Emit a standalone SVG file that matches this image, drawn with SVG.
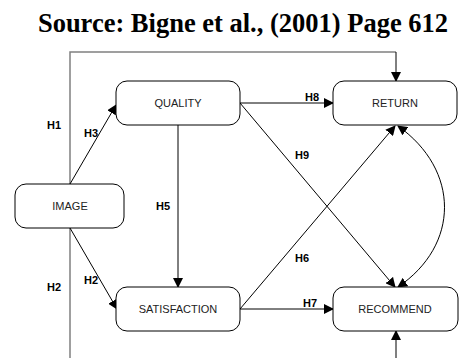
<svg xmlns="http://www.w3.org/2000/svg" width="461" height="358" viewBox="0 0 461 358">
<style>
.node{fill:#fff;stroke:#000;stroke-width:1}
.nt{font-family:"Liberation Sans",Arial,sans-serif;font-size:11px;fill:#222;text-anchor:middle}
.lb{font-family:"Liberation Sans",Arial,sans-serif;font-size:11px;font-weight:bold;fill:#000;text-anchor:middle}
.c{fill:none;stroke:#000;stroke-width:1}
.g{fill:none;stroke:#808080;stroke-width:1.5}
</style>
<defs>
<marker id="a" markerWidth="10" markerHeight="10" refX="9" refY="5" orient="auto" markerUnits="userSpaceOnUse">
<path d="M0,0 L10,5 L0,10 Z" fill="#000"/>
</marker>
<marker id="s" markerWidth="10" markerHeight="10" refX="1" refY="5" orient="auto" markerUnits="userSpaceOnUse">
<path d="M10,0 L0,5 L10,10 Z" fill="#000"/>
</marker>
</defs>
<rect width="461" height="358" fill="#fff"/>
<text x="243" y="32" font-family="'Liberation Serif','Times New Roman',serif" font-size="26.5" font-weight="bold" text-anchor="middle">Source: Bigne et al., (2001) Page 612</text>
<g id="connectors">
<path class="g" d="M70,358 L70,52 L396,52"/>
<path class="c" d="M396,52 L396,81" marker-end="url(#a)"/>
<path class="c" d="M396,358 L396,331" marker-end="url(#a)"/>
<path class="c" d="M70,184 L116,105" marker-end="url(#a)"/>
<path class="c" d="M70,228 L117,309" marker-end="url(#a)"/>
<path class="c" d="M178,125 L178,287" marker-end="url(#a)"/>
<path class="c" d="M240,103 L333,103" marker-end="url(#a)"/>
<path class="c" d="M240,309 L333,309" marker-end="url(#a)"/>
<path class="c" d="M240,103 L395,287" marker-end="url(#a)"/>
<path class="c" d="M240,309 L395,126" marker-end="url(#a)"/>
<path class="c" d="M398,126 C460,170 460,245 398,287" marker-start="url(#s)" marker-end="url(#a)"/>
</g>
<g id="image"><rect class="node" x="15" y="184" width="109" height="44" rx="11"/><text class="nt" x="70" y="210">IMAGE</text></g>
<g id="quality"><rect class="node" x="116" y="81" width="124" height="44" rx="11"/><text class="nt" x="178" y="107">QUALITY</text></g>
<g id="satisfaction"><rect class="node" x="116" y="287" width="124" height="44" rx="11"/><text class="nt" x="178" y="313">SATISFACTION</text></g>
<g id="return"><rect class="node" x="333" y="81" width="124" height="44" rx="11"/><text class="nt" x="395" y="107">RETURN</text></g>
<g id="recommend"><rect class="node" x="333" y="287" width="125" height="44" rx="11"/><text class="nt" x="395" y="313">RECOMMEND</text></g>
<g id="labels">
<text class="lb" x="54" y="129">H1</text>
<text class="lb" x="91" y="137">H3</text>
<text class="lb" x="163" y="210">H5</text>
<text class="lb" x="54" y="291">H2</text>
<text class="lb" x="91" y="284">H2</text>
<text class="lb" x="312" y="101">H8</text>
<text class="lb" x="302" y="159">H9</text>
<text class="lb" x="302" y="262">H6</text>
<text class="lb" x="310" y="307">H7</text>
</g>
</svg>
